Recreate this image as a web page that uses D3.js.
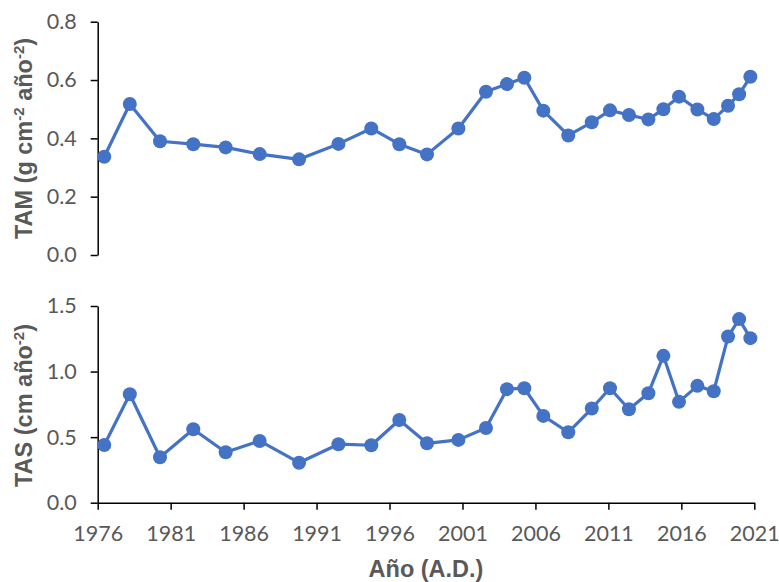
<!DOCTYPE html>
<html>
<head>
<meta charset="utf-8">
<script src="https://cdn.jsdelivr.net/npm/d3@7"></script>
<style>
  html, body { margin: 0; padding: 0; background: #fff; }
  svg { display: block; }
</style>
</head>
<body>
<svg id="chart" width="779" height="582"></svg>
<script>
// ---- data ----
const years = [1976.45, 1978.2, 1980.27, 1982.55, 1984.77, 1987.1, 1989.8, 1992.5, 1994.75,
  1996.67, 1998.57, 2000.72, 2002.61, 2004.05, 2005.24, 2006.54, 2008.25, 2009.86, 2011.11,
  2012.41, 2013.74, 2014.77, 2015.84, 2017.1, 2018.22, 2019.2, 2019.96, 2020.73];
const tam = [0.337, 0.518, 0.390, 0.380, 0.369, 0.346, 0.328, 0.381, 0.434,
  0.380, 0.345, 0.434, 0.560, 0.586, 0.608, 0.495, 0.410, 0.455, 0.496,
  0.480, 0.465, 0.500, 0.543, 0.499, 0.466, 0.512, 0.551, 0.611];
const tas = [0.440, 0.827, 0.347, 0.560, 0.385, 0.471, 0.305, 0.446, 0.438,
  0.631, 0.453, 0.479, 0.570, 0.866, 0.873, 0.662, 0.537, 0.718, 0.873,
  0.713, 0.835, 1.120, 0.769, 0.891, 0.850, 1.267, 1.400, 1.255];
const xTicks = [1976, 1981, 1986, 1991, 1996, 2001, 2006, 2011, 2016, 2021];
const tamTicks = [0, 0.2, 0.4, 0.6, 0.8];
const tasTicks = [0, 0.5, 1.0, 1.5];

// ---- layout ----
const svg = d3.select("#chart");
const color = "#4472C4";
const textColor = "#595959";
const tickFont = "Lato, 'Open Sans', sans-serif";
const titleFont = "'Liberation Sans', Arial, sans-serif";

const x = d3.scaleLinear().domain([1976, 2021]).range([97.7, 754.3]);
const yTop = d3.scaleLinear().domain([0, 0.8]).range([255, 21.7]);
const yBot = d3.scaleLinear().domain([0, 1.5]).range([502.7, 306]);

function styleAxis(g) {
  g.selectAll("path.domain").attr("stroke", "#000").attr("stroke-width", 1.5);
  g.selectAll(".tick line").attr("stroke", "#000").attr("stroke-width", 1.5);
  g.selectAll(".tick text").attr("fill", textColor)
    .style("font-family", tickFont).style("font-size", "21.5px");
}

// top y axis
const gTop = svg.append("g").attr("transform", `translate(${x(1976)},0)`)
  .call(d3.axisLeft(yTop).tickValues(tamTicks).tickFormat(d3.format(".1f"))
    .tickSize(7).tickSizeOuter(0).tickPadding(14));
styleAxis(gTop);

// bottom y axis
const gBot = svg.append("g").attr("transform", `translate(${x(1976)},0)`)
  .call(d3.axisLeft(yBot).tickValues(tasTicks).tickFormat(d3.format(".1f"))
    .tickSize(7).tickSizeOuter(0).tickPadding(14));
styleAxis(gBot);

// bottom x axis
const gX = svg.append("g").attr("transform", `translate(0,${yBot(0)})`)
  .call(d3.axisBottom(x).tickValues(xTicks).tickFormat(d3.format("d"))
    .tickSize(7).tickSizeOuter(0).tickPadding(16));
styleAxis(gX);

// lines and markers
function series(yScale, vals) {
  const data = years.map((yr, i) => ({ yr, v: vals[i] }));
  const line = d3.line().x(d => x(d.yr)).y(d => yScale(d.v));
  svg.append("path").datum(data)
    .attr("d", line).attr("fill", "none")
    .attr("stroke", color).attr("stroke-width", 3.2)
    .attr("stroke-linejoin", "round");
  svg.append("g").selectAll("circle").data(data).join("circle")
    .attr("cx", d => x(d.yr)).attr("cy", d => yScale(d.v))
    .attr("r", 7).attr("fill", color);
}
series(yTop, tam);
series(yBot, tas);

// titles
function yTitle(cx, cy, parts) {
  const t = svg.append("text")
    .attr("transform", `translate(${cx},${cy}) rotate(-90)`)
    .attr("text-anchor", "middle")
    .attr("fill", textColor)
    .style("font-family", titleFont).style("font-weight", "bold").style("font-size", "23.5px");
  parts.forEach(p => {
    const ts = t.append("tspan").text(p.t);
    if (p.sup) ts.attr("baseline-shift", "super").style("font-size", "15px");
  });
}
yTitle(32, 138.5, [{t: "TAM (g cm"}, {t: "-2", sup: true}, {t: " año"}, {t: "-2", sup: true}, {t: ")"}]);
yTitle(32, 405.5, [{t: "TAS (cm año"}, {t: "-2", sup: true}, {t: ")"}]);

svg.append("text")
  .attr("x", (x(1976) + x(2021)) / 2).attr("y", 577)
  .attr("text-anchor", "middle").attr("fill", textColor)
  .style("font-family", titleFont).style("font-weight", "bold").style("font-size", "23.5px")
  .text("Año (A.D.)");
</script>
</body>
</html>
